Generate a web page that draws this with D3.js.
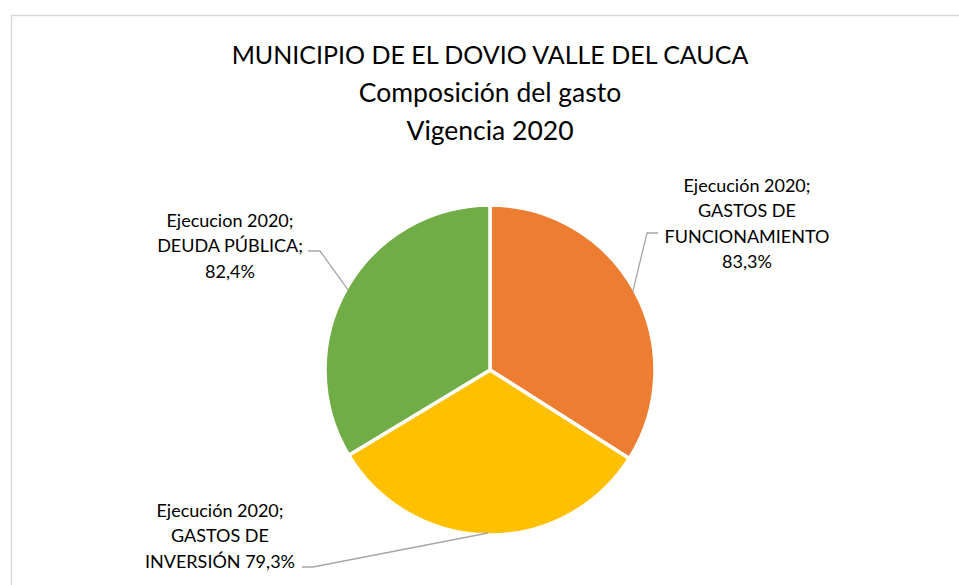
<!DOCTYPE html>
<html>
<head>
<meta charset="utf-8">
<script src="https://cdn.jsdelivr.net/npm/d3@7"></script>
<style>
  body { margin: 0; background: #fff; }
  svg { display: block; font-family: Lato, "Open Sans", sans-serif; }
</style>
</head>
<body>
<div id="chart"></div>
<script>
// Chart data
const categories = ["GASTOS DE FUNCIONAMIENTO", "GASTOS DE INVERSIÓN", "DEUDA PÚBLICA"];
const values = [83.3, 79.3, 82.4];
const colors = ["#ED7D31", "#FFC000", "#70AD47"];
const titleLines = ["MUNICIPIO DE EL DOVIO VALLE DEL CAUCA", "Composición del gasto", "Vigencia 2020"];
const labelLines = [
  ["Ejecución 2020;", "GASTOS DE", "FUNCIONAMIENTO", "83,3%"],
  ["Ejecución 2020;", "GASTOS DE", "INVERSIÓN 79,3%"],
  ["Ejecucion 2020;", "DEUDA PÚBLICA;", "82,4%"]
];

const W = 959, H = 585;
const cx = 490, cy = 370, r = 165;

const svg = d3.select("#chart").append("svg")
  .attr("width", W).attr("height", H);

// chart frame
svg.append("rect")
  .attr("x", 11.5).attr("y", 15.5)
  .attr("width", 1000).attr("height", 700)
  .attr("fill", "#fff")
  .attr("stroke", "#d9d9d9")
  .attr("stroke-width", 1.5);

// title (all-caps line is set a bit smaller so widths match)
svg.append("g").selectAll("text")
  .data(titleLines)
  .join("text")
  .attr("x", 490)
  .attr("y", (d, i) => 64 + i * 38)
  .attr("text-anchor", "middle")
  .style("font-size", (d, i) => i === 0 ? "25px" : "26.5px")
  .style("fill", "#000")
  .text(d => d);

const pie = d3.pie().sort(null).value(d => d);
const arc = d3.arc().innerRadius(0).outerRadius(r);
const arcs = pie(values);

const g = svg.append("g").attr("transform", `translate(${cx},${cy})`);

g.selectAll("path")
  .data(arcs)
  .join("path")
  .attr("d", arc)
  .attr("fill", (d, i) => colors[i])
  .attr("stroke", "#fff")
  .attr("stroke-width", 3.5)
  .attr("stroke-linejoin", "round");

// label blocks and leader lines (label anchor -> elbow -> slice midpoint on arc)
const labelPos = [
  { x: 747, y: 192, anchor: [658, 233], elbow: [647, 233] },
  { x: 220, y: 517, anchor: [302, 567], elbow: [313, 567] },
  { x: 230, y: 227, anchor: [308, 251], elbow: [320, 251] }
];

labelPos.forEach((p, i) => {
  const a = arcs[i];
  const ang = (a.startAngle + a.endAngle) / 2;
  const ex = cx + Math.sin(ang) * (r - 2);
  const ey = cy - Math.cos(ang) * (r - 2);
  svg.append("path")
    .attr("d", d3.line()([p.anchor, p.elbow, [ex, ey]]))
    .attr("fill", "none")
    .attr("stroke", "#a6a6a6")
    .attr("stroke-width", 1.3);

  svg.append("g").selectAll("text")
    .data(labelLines[i])
    .join("text")
    .attr("x", p.x)
    .attr("y", (d, j) => p.y + j * 25.3)
    .attr("text-anchor", "middle")
    .style("font-size", "18px")
    .style("fill", "#000")
    .text(d => d);
});
</script>
</body>
</html>
